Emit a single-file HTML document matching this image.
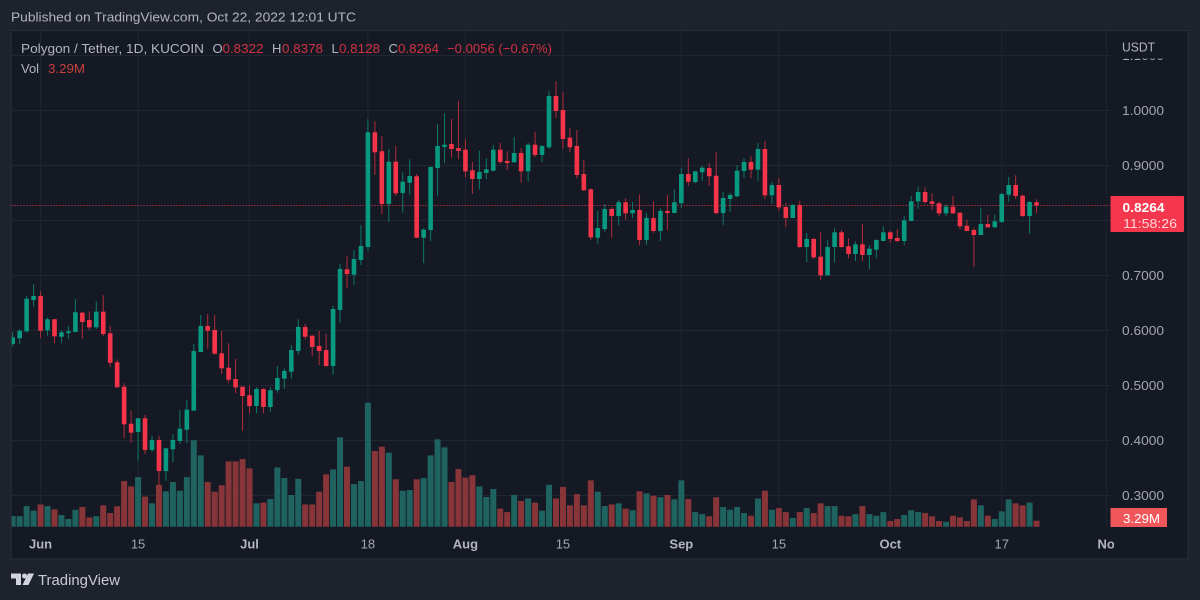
<!DOCTYPE html>
<html lang="en">
<head>
<meta charset="utf-8">
<title>Polygon / Tether, 1D, KUCOIN</title>
<style>
html,body{margin:0;padding:0;background:#1e222d;width:1200px;height:600px;overflow:hidden}
svg{display:block;font-family:"Liberation Sans",sans-serif;filter:blur(0.35px)}
text{white-space:pre}
</style>
</head>
<body>
<svg id="chart" xmlns="http://www.w3.org/2000/svg" width="1200" height="600" viewBox="0 0 1200 600">
  <defs>
    <clipPath id="plot-clip"><rect x="11.7" y="31" width="1098.3" height="496"/></clipPath>
    <clipPath id="axis-clip"><rect x="1110" y="58.5" width="78" height="469"/></clipPath>
    <clipPath id="time-clip"><rect x="11" y="527" width="1103" height="32"/></clipPath>
  </defs>
  <rect x="0" y="0" width="1200" height="600" fill="#1e222d"/>
  <text x="11" y="21.5" font-size="13" fill="#b2b5be" textLength="345" lengthAdjust="spacingAndGlyphs">Published on TradingView.com, Oct 22, 2022 12:01 UTC</text>
  <rect x="11" y="30.5" width="1177" height="528.5" fill="#151924" stroke="#2a2e39" stroke-width="1"/>
  <g id="grid"></g>
  <g id="vol" clip-path="url(#plot-clip)"></g>
  <line x1="11.5" x2="1110" y1="205.5" y2="205.5" stroke="#f23645" stroke-opacity="1" stroke-width="1" stroke-dasharray="1 2"/>
  <g id="candles" clip-path="url(#plot-clip)"></g>
  <g id="price-axis" clip-path="url(#axis-clip)"></g>
  <g id="time-axis" clip-path="url(#time-clip)"></g>
  <text x="1122" y="51.5" font-size="13" fill="#b2b5be" textLength="33" lengthAdjust="spacingAndGlyphs">USDT</text>

  <g font-size="13">
    <text x="21" y="53" fill="#b2b5be" textLength="183" lengthAdjust="spacingAndGlyphs">Polygon / Tether, 1D, KUCOIN</text>
    <text x="212.5" y="53" fill="#b2b5be">O</text>
    <text x="222.5" y="53" fill="#d03343" textLength="41" lengthAdjust="spacingAndGlyphs">0.8322</text>
    <text x="272" y="53" fill="#b2b5be">H</text>
    <text x="282" y="53" fill="#d03343" textLength="41" lengthAdjust="spacingAndGlyphs">0.8378</text>
    <text x="331.5" y="53" fill="#b2b5be">L</text>
    <text x="339" y="53" fill="#d03343" textLength="41" lengthAdjust="spacingAndGlyphs">0.8128</text>
    <text x="388.5" y="53" fill="#b2b5be">C</text>
    <text x="398" y="53" fill="#d03343" textLength="41" lengthAdjust="spacingAndGlyphs">0.8264</text>
    <text x="447" y="53" fill="#d03343" textLength="105" lengthAdjust="spacingAndGlyphs">−0.0056 (−0.67%)</text>
    <text x="21" y="73" fill="#b2b5be">Vol</text>
    <text x="48" y="73" fill="#c9403f" textLength="37" lengthAdjust="spacingAndGlyphs">3.29M</text>
  </g>

  <g>
    <rect x="1110.5" y="196" width="73.5" height="36" rx="1" fill="#f5374d"/>
    <text x="1122.5" y="212" font-size="13" font-weight="700" fill="#ffffff" textLength="42" lengthAdjust="spacingAndGlyphs">0.8264</text>
    <text x="1123" y="228" font-size="13" fill="#ffd6da" textLength="54" lengthAdjust="spacingAndGlyphs">11:58:26</text>
  </g>
  <g>
    <rect x="1110.5" y="508" width="56.5" height="19" fill="#f0575a"/>
    <text x="1123" y="523" font-size="13" fill="#ffffff" textLength="37" lengthAdjust="spacingAndGlyphs">3.29M</text>
  </g>

  <g>
    <g fill="#d1d4dc">
      <path d="M11 573.5h10v11.5h-5v-6.5h-5z"/>
      <circle cx="24.5" cy="576" r="2.5"/>
      <path d="M28 573.5h6l-5.5 11.5h-6z"/>
    </g>
    <text x="38" y="585" font-size="15" fill="#c8cbd3" textLength="82" lengthAdjust="spacingAndGlyphs">TradingView</text>
  </g>
</svg>
<script>
const barCount = 148;
const opens = [.5745,.5849,.5976,.6545,.6618,.5995,.6195,.5878,.5945,.5964,.6315,.6182,.6049,.6333,.594,.5413,.4969,.4296,.4145,.4395,.3818,.4,.3436,.3831,.3982,.4187,.4533,.56,.6073,.6,.5576,.5315,.5109,.4969,.4813,.4618,.4927,.46,.4909,.5115,.5242,.5618,.6055,.5896,.5709,.5636,.5345,.6364,.7104,.7005,.7273,.7509,.9595,.9249,.8291,.906,.8491,.8678,.8795,.7678,.7818,.8945,.9327,.9382,.9309,.9278,.8904,.8745,.8855,.8896,.9278,.9073,.9049,.9218,.8885,.9369,.9182,.9322,1.0255,1.0,.9496,.9345,.8836,.8558,.7678,.7836,.82,.8073,.8322,.8122,.8182,.7636,.8036,.78,.8164,.8127,.8304,.8836,.8691,.8867,.8945,.8805,.8127,.8382,.8431,.8891,.9055,.8915,.9291,.8449,.8636,.8236,.8036,.8273,.7509,.7655,.7333,.6995,.7509,.7776,.7522,.7382,.7558,.7364,.746,.7618,.7776,.7673,.7618,.7982,.834,.8509,.834,.8304,.8122,.8242,.8133,.7896,.7818,.7727,.7927,.7867,.7964,.846,.8636,.8442,.8073,.8322];
const highs = [.5964,.6013,.6618,.6836,.6704,.6224,.6205,.6,.6073,.6558,.6327,.6333,.6522,.6631,.6073,.5467,.5031,.4533,.4395,.4455,.4078,.4078,.3849,.4109,.4545,.4727,.5745,.6273,.6291,.6273,.5982,.5758,.5473,.4969,.4987,.4958,.494,.4958,.5345,.5304,.5727,.6195,.6109,.5909,.5982,.5927,.6442,.72,.7351,.7455,.7904,.9836,.9795,.9527,.9291,.9345,.8867,.9104,.8836,.7849,.8976,.9745,.994,.9836,1.0169,.9467,.9055,.926,.9122,.9369,.94,.9249,.9509,.9304,.94,.9605,.9358,1.034,1.0527,1.0322,.9667,.9636,.9091,.8576,.8164,.8291,.8231,.8369,.8395,.8322,.8467,.8127,.834,.8213,.8455,.8558,.8951,.9122,.8896,.8982,.9031,.9231,.8509,.8491,.8995,.9122,.9164,.94,.9436,.8691,.8764,.8304,.8291,.8351,.7764,.7678,.7776,.7636,.7849,.7818,.7667,.7613,.7927,.754,.7649,.7885,.78,.7836,.8078,.8436,.86,.8595,.8485,.8333,.8285,.8436,.8133,.8005,.7867,.8224,.8091,.8091,.8491,.8782,.8813,.8467,.834,.8378];
const lows = [.5696,.5745,.5951,.6424,.5855,.5896,.5758,.5758,.5836,.5958,.5836,.6,.6018,.5891,.5322,.4958,.4036,.3951,.3624,.3745,.3787,.3182,.326,.3595,.3927,.394,.4533,.56,.566,.5551,.5205,.5042,.4849,.4169,.4485,.4485,.4491,.4515,.486,.4927,.5115,.5551,.5831,.5522,.5364,.5333,.5187,.6133,.6758,.6824,.7182,.7442,.8818,.8104,.7964,.8442,.8133,.846,.7678,.7213,.7618,.8442,.9036,.9133,.9104,.8776,.8473,.8558,.8745,.8885,.9024,.8909,.9042,.8678,.8696,.9145,.9055,.9291,.9855,.9291,.9231,.8758,.8527,.7636,.7569,.7787,.7678,.7909,.8005,.8036,.754,.7551,.7769,.7618,.7818,.8122,.8218,.8618,.8667,.8709,.8618,.8096,.7909,.8145,.8418,.8769,.8758,.8715,.8387,.8291,.8164,.7867,.8036,.7491,.7236,.7291,.6909,.6987,.7224,.7496,.7304,.7255,.7255,.7109,.7304,.7618,.7587,.7605,.754,.7976,.82,.8304,.8182,.8073,.8073,.8115,.7836,.78,.7145,.7727,.786,.786,.7951,.8333,.8382,.8055,.7745,.8128];
const closes = [.5867,.5987,.6569,.6618,.5987,.6195,.5885,.5958,.5976,.6322,.6145,.6049,.6333,.5927,.5405,.4958,.4285,.4133,.4395,.3818,.4,.3436,.3849,.4,.4205,.4551,.5618,.6073,.5987,.5569,.5304,.5096,.4958,.48,.4618,.4927,.46,.4904,.5127,.5255,.5636,.6055,.5878,.5691,.5618,.5345,.6382,.7109,.7018,.7291,.7527,.9595,.9231,.8291,.906,.8485,.8696,.88,.7678,.7824,.8964,.9345,.9369,.9291,.9255,.8885,.8745,.8873,.8922,.9278,.9055,.9036,.9218,.8885,.9369,.9182,.9345,1.0255,.9982,.9473,.9322,.8818,.854,.7685,.7855,.82,.8073,.8322,.8122,.8182,.7636,.8036,.78,.8164,.8127,.8322,.8836,.8696,.8885,.8951,.8795,.8127,.84,.8455,.8896,.9055,.8915,.9291,.8449,.8636,.8231,.8036,.8273,.7509,.7655,.7322,.6995,.7509,.7776,.7509,.7382,.7558,.7364,.7478,.7636,.7776,.7655,.7618,.7995,.834,.8509,.8327,.8291,.8122,.8242,.8122,.7885,.78,.7727,.7927,.7867,.7976,.8473,.8636,.8436,.8073,.8327,.8264];
const volumes = [5.8,5.8,11.3,8.8,12.2,11.3,9.5,6.4,4.2,9.3,10.8,5.1,5.7,11.7,7.5,11.2,25,22.1,27.2,16.5,12.8,23,19.4,24.5,19.7,27.2,47.5,39.1,24.5,19.2,22.7,35.8,35.8,37.1,32,12.8,13.2,15.2,32.5,26.7,17.4,26.3,12.2,12.2,19.2,28.7,31.4,49,32.9,23.4,25,68,41.5,43.9,40.6,26,19.7,20.1,26,26.7,39.1,47.9,43.5,24.5,31.6,26.9,28.2,22.1,16.3,20.7,9.9,8,17.4,14.1,15.5,13.2,8.8,23,15.5,21.8,11.7,17.9,11.7,25.4,19.2,11.3,12.2,12.8,9.9,9,19.4,18.3,17,16.1,17.4,15,25.4,15.2,8,6.9,5.7,16.1,10.8,9.3,10.8,7.5,6,15.5,19.7,9.3,10.2,8,4.8,8,10.2,7.5,12.8,11.3,11.3,6,5.7,6.9,11.3,6.9,6,8,3.1,4.2,6.4,9,8,7.5,5.7,3.1,2.7,6,5.1,3.1,15,11.7,6,4.2,8.4,15,12.8,11.7,13.2,3.29];
const priceTicks = [1.1,1.0,0.9,0.8,0.7,0.6,0.5,0.4,0.3];
const timeTickLabels = ["Jun","15","Jul","18","Aug","15","Sep","15","Oct","17","No"];
const timeTickBars = [4,18,34,51,65,79,96,110,126,142,157];
const timeTickIsMonth = [true,false,true,false,true,false,true,false,true,false,true];

const svgNS = "http://www.w3.org/2000/svg";
const xScale = { origin: 12.7, step: 6.965 };
const yScale = { y0: 110, p0: 1, perUnit: 550 };
const volScale = { base: 526.7, perUnit: 6 / 3.29 };
function xAt(i) { return xScale.origin + xScale.step * i; }
function yPrice(p) { return yScale.y0 + (yScale.p0 - p) * yScale.perUnit; }
function yVol(v) { return volScale.base - v * volScale.perUnit; }
function make(tag, attrs, parent) {
  const el = document.createElementNS(svgNS, tag);
  for (const k in attrs) el.setAttribute(k, attrs[k]);
  parent.appendChild(el);
  return el;
}
const gridG = document.getElementById("grid");
const priceG = document.getElementById("price-axis");
const timeG = document.getElementById("time-axis");
const volG = document.getElementById("vol");
const candleG = document.getElementById("candles");

priceTicks.forEach(function (p) {
  const y = yPrice(p);
  const line = make("line", { x1: 11.5, x2: 1110, y1: y + 0.5, y2: y + 0.5, stroke: "#222632", "stroke-width": 1 }, gridG);
  
  
  const label = make("text", { x: 1122, y: y + 5, "font-size": 13, fill: "#a3a6af", textLength: 42, lengthAdjust: "spacingAndGlyphs" }, priceG);
  label.textContent = p.toFixed(4);
  
  
});

timeTickBars.forEach(function (b, k) {
  const x = xAt(b);
  const line = make("line", { x1: x, x2: x, y1: 31, y2: 527, stroke: "#212531", "stroke-width": 1 }, gridG);
  
  
  const label = make("text", { x: x, y: 548.5, "font-size": 13, fill: timeTickIsMonth[k] ? "#b2b5be" : "#a3a6af", "text-anchor": "middle", "font-weight": timeTickIsMonth[k] ? 700 : 400 }, timeG);
  label.textContent = timeTickLabels[k];
  
  
});

for (let i = 0; i < barCount; i++) {
  const up = closes[i] >= opens[i];
  const x = xAt(i);

  const vy = yVol(volumes[i]);
  const bar = make("rect", { x: x - 3, y: vy, width: 6, height: volScale.base - vy, fill: up ? "#1f6360" : "#883539" }, volG);
  
  

  const color = up ? "#089981" : "#f5344a";
  const wick = make("line", { x1: x, x2: x, y1: yPrice(highs[i]), y2: yPrice(lows[i]), stroke: up ? "#0a7a68" : "#b02c3c", "stroke-width": 1 }, candleG);
  
  

  const top = yPrice(Math.max(opens[i], closes[i]));
  const bot = yPrice(Math.min(opens[i], closes[i]));
  const body = make("rect", { x: x - 2.3, y: top, width: 4.6, height: Math.max(bot - top, 1), fill: color }, candleG);
  
  
}
</script>
</body>
</html>
